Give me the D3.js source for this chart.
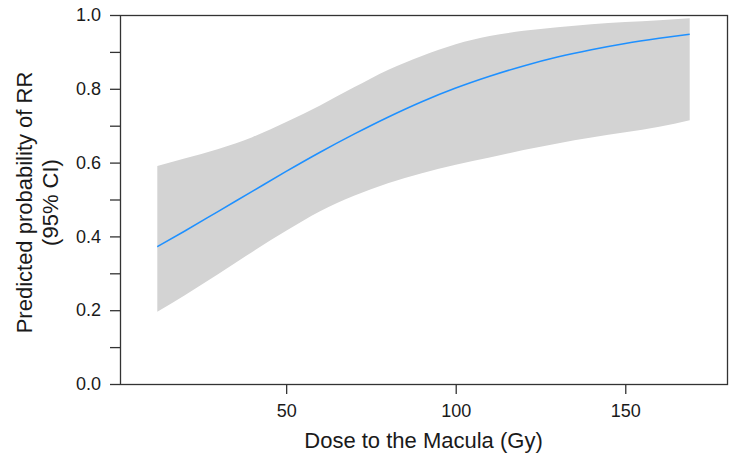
<!DOCTYPE html>
<html>
<head>
<meta charset="utf-8">
<script src="https://cdn.jsdelivr.net/npm/d3@7"></script>
<style>
  body { margin: 0; background: #fff; }
  svg { display: block; }
  text { font-family: "Liberation Sans", Arial, Helvetica, sans-serif; fill: #1a1a1a; }
</style>
</head>
<body>
<svg id="chart" width="729" height="465"></svg>
<script>
// Dose to the macula (Gy) and the modelled probability of RR with its 95% CI
const dose      = [12, 20, 30, 40, 50, 60, 70, 80, 90, 100, 110, 120, 130, 140, 150, 160, 169];
const predicted = [0.372, 0.414, 0.468, 0.522, 0.576, 0.628, 0.677, 0.723, 0.765, 0.802, 0.834, 0.862, 0.886, 0.906, 0.923, 0.937, 0.948];
const ciUpper   = [0.591, 0.611, 0.637, 0.669, 0.710, 0.755, 0.804, 0.851, 0.889, 0.921, 0.943, 0.957, 0.967, 0.975, 0.981, 0.986, 0.991];
const ciLower   = [0.196, 0.240, 0.298, 0.358, 0.415, 0.468, 0.510, 0.544, 0.571, 0.594, 0.614, 0.634, 0.652, 0.668, 0.682, 0.697, 0.715];

const yTicks = [0, 0.1, 0.2, 0.3, 0.4, 0.5, 0.6, 0.7, 0.8, 0.9, 1.0];
const yTickLabels = ["0.0", "", "0.2", "", "0.4", "", "0.6", "", "0.8", "", "1.0"];
const xTicks = [50, 100, 150];
const xTickLabels = ["50", "100", "150"];

const xTitle = "Dose to the Macula (Gy)";
const yTitle = ["Predicted probability of RR", "(95% CI)"];

const plot = { left: 120, top: 15, right: 727, bottom: 384 };
const tickFont = 18;
const titleFont = 22;

const svg = d3.select("#chart");

const x = d3.scaleLinear().domain([1, 180]).range([plot.left, plot.right]);
const y = d3.scaleLinear().domain([0, 1]).range([plot.bottom, plot.top]);

const rows = dose.map((d, i) => ({ dose: d, fit: predicted[i], lo: ciLower[i], hi: ciUpper[i] }));

// confidence band
svg.append("path")
  .datum(rows)
  .attr("fill", "#d3d3d3")
  .attr("d", d3.area()
    .x(d => x(d.dose))
    .y0(d => y(d.lo))
    .y1(d => y(d.hi))
    .curve(d3.curveMonotoneX));

// fitted probability
svg.append("path")
  .datum(rows)
  .attr("fill", "none")
  .attr("stroke", "#1e90ff")
  .attr("stroke-width", 1.5)
  .attr("d", d3.line()
    .x(d => x(d.dose))
    .y(d => y(d.fit))
    .curve(d3.curveMonotoneX));

// plot frame
svg.append("rect")
  .attr("x", plot.left + 0.5)
  .attr("y", plot.top + 0.5)
  .attr("width", plot.right - plot.left)
  .attr("height", plot.bottom - plot.top)
  .attr("fill", "none")
  .attr("stroke", "#333")
  .attr("stroke-width", 1.3);

// y axis
const yAxis = svg.append("g")
  .attr("transform", `translate(${plot.left},0)`)
  .call(d3.axisLeft(y)
    .tickValues(yTicks)
    .tickSize(10)
    .tickPadding(9)
    .tickFormat((d, i) => yTickLabels[i]));
yAxis.select(".domain").remove();
yAxis.selectAll(".tick line").attr("stroke", "#333").attr("stroke-width", 1.3);
yAxis.selectAll(".tick text")
  .attr("font-size", tickFont)
  .attr("fill", "#1a1a1a")
  .style("font-family", '"Liberation Sans", Arial, sans-serif');

// x axis
const xAxis = svg.append("g")
  .attr("transform", `translate(0,${plot.bottom})`)
  .call(d3.axisBottom(x)
    .tickValues(xTicks)
    .tickSize(10)
    .tickPadding(10)
    .tickFormat((d, i) => xTickLabels[i]));
xAxis.select(".domain").remove();
xAxis.selectAll(".tick line").attr("stroke", "#333").attr("stroke-width", 1.3);
xAxis.selectAll(".tick text")
  .attr("font-size", tickFont)
  .attr("fill", "#1a1a1a")
  .style("font-family", '"Liberation Sans", Arial, sans-serif');

// axis titles
svg.append("text")
  .attr("x", (plot.left + plot.right) / 2)
  .attr("y", 448)
  .attr("text-anchor", "middle")
  .attr("font-size", titleFont)
  .text(xTitle);

const yMid = (plot.top + plot.bottom) / 2 + 3;
svg.append("text")
  .attr("transform", `translate(32,${yMid}) rotate(-90)`)
  .attr("text-anchor", "middle")
  .attr("font-size", titleFont)
  .text(yTitle[0]);
svg.append("text")
  .attr("transform", `translate(58,${yMid}) rotate(-90)`)
  .attr("text-anchor", "middle")
  .attr("font-size", titleFont)
  .text(yTitle[1]);
</script>
</body>
</html>
